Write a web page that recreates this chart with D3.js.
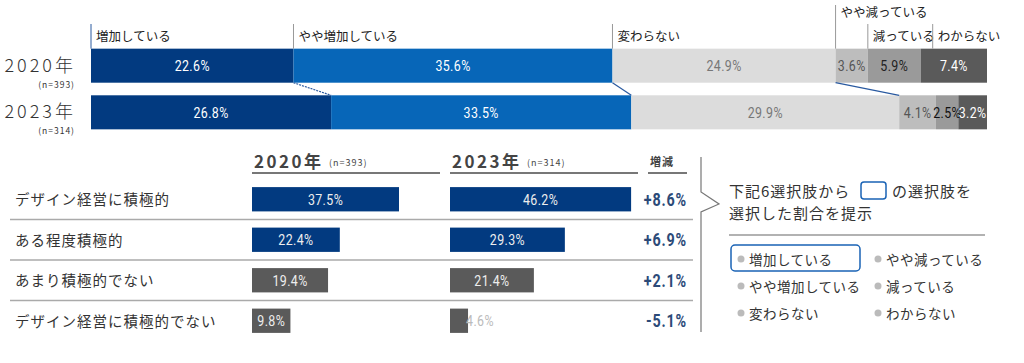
<!DOCTYPE html>
<html>
<head>
<meta charset="utf-8">
<script src="https://cdn.jsdelivr.net/npm/d3@7"></script>
<style>
  body { margin: 0; background: #fff; }
  svg { display: block; }
  .jp { font-family: "Noto Sans CJK JP", "Noto Sans", sans-serif; }
  .num { font-family: "Roboto", "Liberation Sans", sans-serif; }
</style>
</head>
<body>
<svg id="chart" width="1024" height="363"></svg>
<script>
// ---- top stacked bars ----
const answers = ['増加している', 'やや増加している', '変わらない', 'やや減っている', '減っている', 'わからない']
const years = ['2020年', '2023年']
const sampleN = ['(n=393)', '(n=314)']
const shares2020 = [22.6, 35.6, 24.9, 3.6, 5.9, 7.4]
const shares2023 = [26.8, 33.5, 29.9, 4.1, 2.5, 3.2]

// ---- bottom comparison ----
const groups = ['デザイン経営に積極的', 'ある程度積極的', 'あまり積極的でない', 'デザイン経営に積極的でない']
const group2020 = [37.5, 22.4, 19.4, 9.8]
const group2023 = [46.2, 29.3, 21.4, 4.6]
const groupChange = ['+8.6%', '+6.9%', '+2.1%', '-5.1%']

const legendCols = [['増加している', 'やや増加している', '変わらない'], ['やや減っている', '減っている', 'わからない']]

const segColors = ['#023a80', '#0766b8', '#dcdcdc', '#bdbdbd', '#9a9a9a', '#5a5a5a']
const segText = {
    '2020年': ['#fff', '#fff', '#777', '#555', '#222', '#fff'],
    '2023年': ['#fff', '#fff', '#777', '#555', '#111', '#fff']
}

const svg = d3.select('#chart')

// condensed looking numbers: squeeze horizontally
function numText(x, y, txt, opt) {
    let t = svg.append('text')
        .attr('class', 'num')
        .attr('transform', 'translate(' + x + ',' + y + ') scale(' + (opt.sx || 0.8) + ',1)')
        .attr('text-anchor', opt.anchor || 'middle')
        .attr('font-size', opt.size || 15)
        .attr('letter-spacing', opt.ls || 0.5)
        .attr('fill', opt.fill || '#fff')
        .text(txt)
    if (opt.bold) t.attr('font-weight', 'bold')
    return t
}

//////// top chart ////////
const xTop = d3.scaleLinear().domain([0, 100]).range([91, 987])
const yTop = d3.scaleBand().domain(years).range([44, 134]).paddingInner(0.27).paddingOuter(0.1)

function stack(vals) {
    let acc = 0
    return vals.map((v, i) => {
        let d = { i: i, v: v, x0: acc, x1: acc + v }
        acc += v
        return d
    })
}
const stacks = { '2020年': stack(shares2020), '2023年': stack(shares2023) }

years.forEach((yr, yi) => {
    let g = svg.append('g')
    g.selectAll('rect')
        .data(stacks[yr])
        .enter()
        .append('rect')
        .attr('x', d => xTop(d.x0))
        .attr('y', yTop(yr))
        .attr('width', d => xTop(d.x1) - xTop(d.x0))
        .attr('height', yTop.bandwidth())
        .attr('fill', d => segColors[d.i])

    stacks[yr].forEach(d => {
        let small = d.v < 3.5
        numText((xTop(d.x0) + xTop(d.x1)) / 2, yTop(yr) + yTop.bandwidth() / 2 + 5.5,
            d.v.toFixed(1) + '%', { fill: segText[yr][d.i], size: 15.5, ls: small ? 0 : 0.5 })
    })

    // year label
    svg.append('text')
        .attr('class', 'jp')
        .attr('x', 76)
        .attr('y', yTop(yr) + yTop.bandwidth() / 2 + 6)
        .attr('text-anchor', 'end')
        .attr('font-size', 18)
        .attr('font-weight', 300)
        .attr('letter-spacing', 3)
        .attr('fill', '#333')
        .text(yr)
    svg.append('text')
        .attr('class', 'jp')
        .attr('x', 75)
        .attr('y', yTop(yr) + yTop.bandwidth() / 2 + 22)
        .attr('text-anchor', 'end')
        .attr('font-size', 8.5)
        .attr('letter-spacing', 1)
        .attr('fill', '#333')
        .text(sampleN[yi])
})

// connectors between the two years
const s20 = stacks['2020年'], s23 = stacks['2023年']
;[0, 1, 2].forEach(i => {
    svg.append('line')
        .attr('x1', xTop(s20[i].x1))
        .attr('y1', yTop(years[0]) + yTop.bandwidth())
        .attr('x2', xTop(s23[i].x1))
        .attr('y2', yTop(years[1]))
        .attr('stroke', '#2a5aa0')
        .attr('stroke-width', 1.2)
        .attr('stroke-dasharray', i == 0 ? '2,1' : null)
})

// category labels above the 2020 bar
s20.forEach((d, i) => {
    let lx = xTop(d.x0)
    let top = 24, ty = 41
    if (i == 3) { top = 5; ty = 17 }
    if (i == 5) lx = xTop(d.x0) + 12 // nudge so it doesn't collide
    svg.append('line')
        .attr('x1', lx).attr('x2', lx)
        .attr('y1', top).attr('y2', yTop(years[0]))
        .attr('stroke', i == 0 ? '#2a5aa0' : '#999')
        .attr('stroke-width', 1)
    svg.append('text')
        .attr('class', 'jp')
        .attr('x', lx + 5)
        .attr('y', ty)
        .attr('font-size', 12.5)
        .attr('fill', '#222')
        .text(answers[i])
})

//////// bottom chart ////////
const x20 = 252, x23 = 450
const xBot = d3.scaleLinear().domain([0, 50]).range([0, 196])
const yBot = d3.scaleBand().domain(groups).range([179, 341]).paddingInner(0.4).paddingOuter(0.2)

// headers
function header(x, yr, n, w) {
    svg.append('text')
        .attr('class', 'jp')
        .attr('x', x + 2).attr('y', 168)
        .attr('font-size', 17).attr('font-weight', 'bold')
        .attr('letter-spacing', 2.5).attr('fill', '#444')
        .text(yr)
    svg.append('text')
        .attr('class', 'jp')
        .attr('x', x + 77).attr('y', 166)
        .attr('font-size', 9).attr('fill', '#444')
        .attr('letter-spacing', 1)
        .text(n)
    svg.append('line')
        .attr('x1', x).attr('x2', x + w)
        .attr('y1', 173).attr('y2', 173)
        .attr('stroke', '#777').attr('stroke-width', 2)
}
header(x20, years[0], sampleN[0], 188)
header(x23, years[1], sampleN[1], 188)
svg.append('text')
    .attr('class', 'jp')
    .attr('x', 650).attr('y', 166)
    .attr('font-size', 11).attr('font-weight', 'bold')
    .attr('fill', '#444').attr('letter-spacing', 1)
    .text('増減')
svg.append('line')
    .attr('x1', 648).attr('x2', 687)
    .attr('y1', 173).attr('y2', 173)
    .attr('stroke', '#777').attr('stroke-width', 2)

groups.forEach((gname, i) => {
    let y = yBot(gname), h = yBot.bandwidth()
    let col = i < 2 ? '#023a80' : '#5a5a5a'
    svg.append('text')
        .attr('class', 'jp')
        .attr('x', 15).attr('y', y + h / 2 + 6)
        .attr('font-size', 14.5).attr('letter-spacing', 1)
        .attr('fill', '#333')
        .text(gname)
    if (i > 0) {
        svg.append('line')
            .attr('x1', 10).attr('x2', 693)
            .attr('y1', y - (yBot.step() - h) / 2).attr('y2', y - (yBot.step() - h) / 2)
            .attr('stroke', '#aaa').attr('stroke-width', 1.5)
    }
    ;[[x20, group2020[i]], [x23, group2023[i]]].forEach(([x0, v]) => {
        let w = xBot(v)
        svg.append('rect')
            .attr('x', x0).attr('y', y)
            .attr('width', w).attr('height', h)
            .attr('fill', col)
        let outside = w < 30
        numText(outside ? x0 + w - 2 : x0 + w / 2, y + h / 2 + 5.5, v.toFixed(1) + '%',
            { anchor: outside ? 'start' : 'middle', fill: outside ? '#bbb' : '#eee', size: 15.5 })
    })
    numText(687, y + h / 2 + 6.5, groupChange[i], { anchor: 'end', fill: '#2c4a78', size: 17.5, bold: true, sx: 0.82, ls: 1 })
})

//////// right note ////////
svg.append('path')
    .attr('d', 'M701,157 L701,192 L719,204 L701,212 L701,332')
    .attr('fill', 'none').attr('stroke', '#777').attr('stroke-width', 1.2)

let note = svg.append('text').attr('class', 'jp').attr('font-size', 15).attr('fill', '#333').attr('letter-spacing', 1)
note.append('tspan').attr('x', 729).attr('y', 197).text('下記6選択肢から')
note.append('tspan').attr('x', 892).attr('y', 197).text('の選択肢を')
note.append('tspan').attr('x', 729).attr('y', 219).text('選択した割合を提示')
svg.append('rect')
    .attr('x', 861).attr('y', 182).attr('width', 25).attr('height', 17).attr('rx', 3)
    .attr('fill', 'none').attr('stroke', '#1a63b5').attr('stroke-width', 1.5)
svg.append('line')
    .attr('x1', 729).attr('x2', 985).attr('y1', 235).attr('y2', 235)
    .attr('stroke', '#999').attr('stroke-width', 1.5)

svg.append('rect')
    .attr('x', 731).attr('y', 245).attr('width', 129).attr('height', 26).attr('rx', 4)
    .attr('fill', 'none').attr('stroke', '#1a63b5').attr('stroke-width', 1.5)

legendCols.forEach((col, ci) => {
    let cx = ci == 0 ? 741 : 878
    col.forEach((lab, ri) => {
        let cy = 259 + ri * 27
        svg.append('circle').attr('cx', cx).attr('cy', cy).attr('r', 3.5).attr('fill', '#bbb')
        svg.append('text')
            .attr('class', 'jp')
            .attr('x', cx + 8).attr('y', cy + 5.5)
            .attr('font-size', 13.5).attr('letter-spacing', 0.5)
            .attr('fill', '#333')
            .text(lab)
    })
})
</script>
</body>
</html>
